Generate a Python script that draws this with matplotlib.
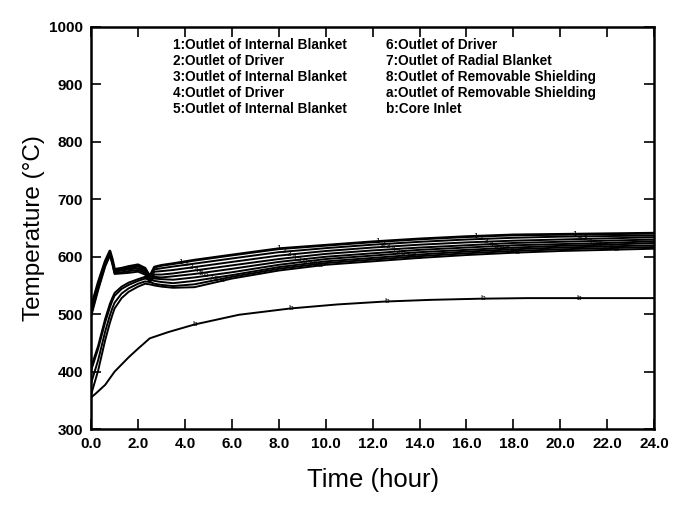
#
# plot.py
#
# temperature transient at core outlets, redrawn from a scanned figure
#
import numpy as np
import matplotlib
matplotlib.use('Agg')
import matplotlib.pyplot as plt

plt.rcParams['font.family'] = ['Liberation Sans', 'DejaVu Sans']

# time points (hour) used for curves 1-8 and a
t = [0, 0.3, 0.6, 0.8, 0.9, 1.0, 1.3, 1.6, 2.0, 2.3, 2.5, 2.7, 3.0, 3.5, 4.4,
     6.0, 8.0, 10.0, 12.0, 14.0, 16.0, 18.0, 20.0, 22.0, 24.0]

# temperatures (C)
c1 = [512, 555, 592, 610, 596, 578, 580, 583, 586, 580, 566, 582, 585, 588, 594,
      603, 614, 620, 626, 631, 635, 638, 639, 640, 641]
c2 = [509, 552, 590, 608, 594, 576, 578, 580, 583, 578, 563, 578, 580, 583, 588,
      597, 608, 615, 621, 626, 630, 633, 635, 636, 637]
c3 = [505, 549, 588, 606, 592, 574, 576, 578, 580, 575, 561, 574, 575, 577, 582,
      591, 602, 610, 616, 621, 625, 628, 630, 632, 634]
c4 = [500, 545, 585, 604, 590, 572, 573, 575, 577, 572, 558, 569, 569, 571, 576,
      585, 596, 605, 611, 616, 620, 624, 626, 628, 630]
c5 = [496, 542, 583, 602, 588, 570, 571, 572, 574, 569, 556, 565, 564, 566, 570,
      579, 591, 600, 606, 612, 616, 620, 622, 624, 627]
c6 = [408, 445, 492, 518, 528, 537, 548, 555, 561, 565, 563, 562, 561, 560, 564,
      573, 586, 596, 602, 608, 612, 616, 619, 621, 624]
c7 = [402, 440, 486, 512, 523, 532, 544, 551, 558, 562, 560, 558, 556, 554, 558,
      568, 582, 592, 598, 604, 609, 613, 616, 618, 620]
c8 = [380, 420, 470, 498, 510, 520, 536, 545, 553, 557, 556, 553, 551, 549, 552,
      565, 579, 589, 595, 601, 606, 610, 613, 615, 617]
ca = [360, 402, 455, 485, 498, 510, 528, 539, 548, 553, 552, 550, 548, 546, 547,
      562, 576, 586, 592, 598, 603, 607, 610, 612, 614]

# core inlet
t_b = [0, 0.2, 0.6, 1.0, 1.6, 2.0, 2.5, 3.3, 4.4, 6.3, 8.5, 10.5, 12.5, 14.5,
       16.6, 18.6, 20.7, 22.5, 24.0]
cb = [355, 362, 377, 400, 425, 440, 458, 469, 482, 499, 510, 517, 522, 525,
      527, 528, 528, 528, 528]

curves = [c1, c2, c3, c4, c5, c6, c7, c8, ca]
curve_ids = ['1', '2', '3', '4', '5', '6', '7', '8', 'a']

legend_left = ['1:Outlet of Internal Blanket', '2:Outlet of Driver',
               '3:Outlet of Internal Blanket', '4:Outlet of Driver',
               '5:Outlet of Internal Blanket']
legend_right = ['6:Outlet of Driver', '7:Outlet of Radial Blanket',
                '8:Outlet of Removable Shielding', 'a:Outlet of Removable Shielding',
                'b:Core Inlet']

xticks = np.arange(0, 25, 2)
yticks = np.arange(300, 1001, 100)

fig = plt.figure(figsize=(6.8, 5.09), dpi=100)
ax = fig.add_axes([0.134, 0.157, 0.828, 0.790])

# draw the curves
for i in range(len(curves)):
  lw = 2.0 if i == 0 else 1.4
  ax.plot(t, curves[i], 'k-', lw=lw)
  # small id marks along the curve
  for base in [3.8, 8.0, 12.2, 16.4, 20.6]:
    tt = base + 0.22*i
    ax.text(tt, np.interp(tt, t, curves[i]), curve_ids[i], fontsize=6,
            ha='center', va='center')
#endfor
ax.plot(t_b, cb, 'k-', lw=1.4)
for tt in [4.4, 8.5, 12.6, 16.7, 20.8]:
  ax.text(tt, np.interp(tt, t_b, cb), 'b', fontsize=6, ha='center', va='center')

# legend written as plain text
for k in range(5):
  ax.text(0.146, 0.955 - 0.0398*k, legend_left[k], transform=ax.transAxes,
          fontsize=9.8, fontweight='bold', va='center', ha='left')
  ax.text(0.524, 0.955 - 0.0398*k, legend_right[k], transform=ax.transAxes,
          fontsize=9.8, fontweight='bold', va='center', ha='left')

ax.set_xlim(0, 24)
ax.set_ylim(300, 1000)
ax.set_xticks(xticks)
ax.set_xticklabels(['{0:.1f}'.format(v) for v in xticks], fontweight='bold')
ax.set_yticks(yticks)
ax.set_yticklabels([str(v) for v in yticks], fontweight='bold')
ax.tick_params(direction='in', top=True, right=True, length=7, width=1.2,
               labelsize=11, pad=6)
for s in ax.spines.values():
  s.set_linewidth(1.8)

ax.set_xlabel('Time (hour)', fontsize=18.5, labelpad=12)
ax.set_ylabel('Temperature (\u00b0C)', fontsize=17.5, labelpad=3)

fig.savefig('out.png', dpi=100)
